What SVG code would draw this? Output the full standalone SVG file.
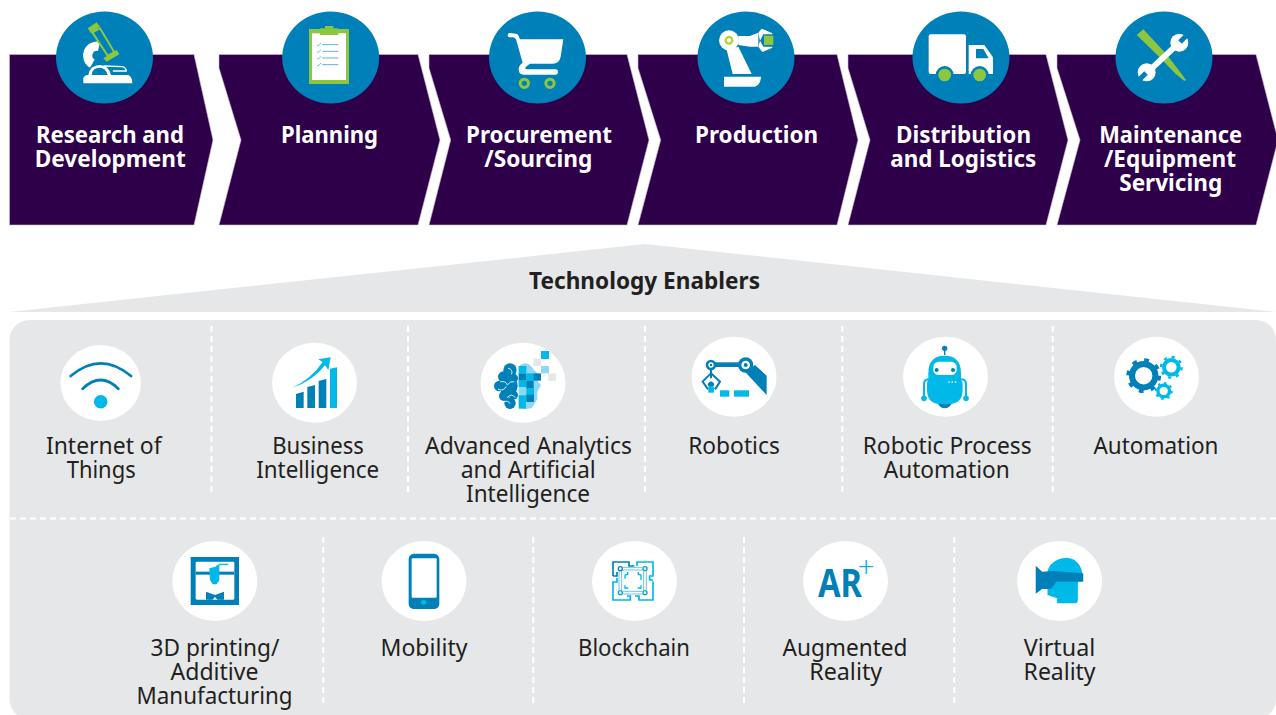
<svg xmlns="http://www.w3.org/2000/svg" width="1276" height="715" viewBox="0 0 1276 715">
<style>
.chev{fill:#2d0049;stroke:#c9bcd6;stroke-width:.6}
.bc{fill:#0080b9}
.wc{fill:#fff}
.w{fill:#fff}
.b{fill:#0080b9}
.c{fill:#00b9e8}
.g{fill:#8dc63f}
.h{font:700 23.5px "Noto Sans",sans-serif;fill:#fff;text-anchor:middle}
.t{font:400 23px "Noto Sans",sans-serif;fill:#231f20;text-anchor:middle}
.d{stroke:#fff;stroke-width:2;stroke-dasharray:6 4;fill:none}
.ln{fill:none;stroke-linecap:round;stroke-linejoin:round}
</style>
<rect width="1276" height="715" fill="#fff"/>

<g id="enablers-header">
<polygon points="9,312 645,244 1276,312" fill="#e6e7e8"/>
<text x="644.500" y="289" style="font:700 23px 'Noto Sans',sans-serif;fill:#231f20;text-anchor:middle" textLength="231" lengthAdjust="spacingAndGlyphs">Technology Enablers</text>
</g>
<rect id="enablers-panel" x="9.500" y="320" width="1266.500" height="399" rx="20" fill="#e6e7e8"/>

<g id="dividers" class="d">
<path d="M211.500 326V494M408 326V494M645 326V494M842.300 326V494M1052.700 326V494"/>
<path d="M10 518.500H1276"/>
<path d="M323.300 537V706M533.300 537V706M744 537V706M954.300 537V706"/>
</g>

<g id="research">
<polygon class="chev" points="9.500,54.500 194,54.500 213,140 194,225 9.500,225"/>
<ellipse class="bc" cx="104.500" cy="57.500" rx="48.500" ry="46"/>
<g transform="translate(75,15) scale(.33333)">
<path d="M72 94.400A28 28 0 0 0 52 146" fill="none" stroke="#fff" stroke-width="28"/>
<path class="w" d="M40 180Q45 150 75 150Q100 150 108 180H98Q92 158 74 158Q52 158 50 180Z"/>
<path class="ln" d="M88 153L142 155Q153 158 154 168H115" stroke="#fff" stroke-width="4"/>
<path class="w" d="M25 205V190Q28 181 38 180H160Q172 185 172 205Z"/>
<polygon class="g" points="38,40 65,22 75,35 48,55"/>
<polygon class="g" points="85,130 125,105 133,118 95,140"/>
<polygon points="52,52 75,40 118,112 98,122" fill="none" stroke="#8dc63f" stroke-width="6"/>
</g>
<text class="h" x="110" y="143" textLength="148" lengthAdjust="spacingAndGlyphs">Research and</text>
<text class="h" x="110.300" y="167" textLength="151" lengthAdjust="spacingAndGlyphs">Development</text>
</g>

<g id="planning">
<polygon class="chev" points="219,54.500 418,54.500 440,140 418,225 219,225 241,140 219,68"/>
<ellipse class="bc" cx="330.700" cy="57.500" rx="48.500" ry="46"/>
<g transform="scale(.33333)">
<rect class="g" x="927" y="87" width="120" height="165"/>
<rect class="w" x="936" y="100" width="102" height="140"/>
<rect class="g" x="960" y="85" width="55" height="20"/>
<rect class="g" x="975" y="78" width="25" height="8"/>
<path d="M967 134H1015M967 154H1015M967 174H1015M967 194H1015" stroke="#5fb2d6" stroke-width="3" fill="none"/>
<path d="M951 134l4 4 8-9M951 154l4 4 8-9M951 174l4 4 8-9M951 194l4 4 8-9" stroke="#3a9cc8" stroke-width="2" fill="none"/>
</g>
<text class="h" x="329.500" y="143" textLength="97" lengthAdjust="spacingAndGlyphs">Planning</text>
</g>

<g id="procurement">
<polygon class="chev" points="429,54.500 627,54.500 649,140 627,225 429,225 450.700,140 429,68"/>
<ellipse class="bc" cx="537.500" cy="57.500" rx="48.500" ry="46"/>
<g transform="translate(430,0) scale(.33333)">
<path class="w" d="M233 106Q233 99 240 99L258 101Q264 102 266 108L270 118H400L392 170Q388 190 368 191H300L288 200Q282 208 292 208H378Q384 209 384 215Q384 224 376 224H282Q266 224 266 208Q266 196 278 188L258 118Q254 112 248 112L238 112Q233 112 233 106Z"/>
<circle cx="283" cy="250" r="12.500" fill="none" stroke="#8dc63f" stroke-width="9"/>
<circle cx="360" cy="250" r="12.500" fill="none" stroke="#8dc63f" stroke-width="9"/>
</g>
<text class="h" x="539" y="143" textLength="146" lengthAdjust="spacingAndGlyphs">Procurement</text>
<text class="h" x="538.300" y="167" textLength="108" lengthAdjust="spacingAndGlyphs">/Sourcing</text>
</g>

<g id="production">
<polygon class="chev" points="638,54.500 837,54.500 858,140 837,225 638,225 660.700,140 638,68"/>
<ellipse class="bc" cx="746" cy="57.500" rx="48.500" ry="46"/>
<g transform="translate(430,0) scale(.33333)">
<polygon class="w" points="890,150 925,140 965,222 908,222"/>
<path class="w" d="M882 230H993Q992 255 975 260H882Z"/>
<polygon class="w" points="925,108 960,108 985,98 985,140 960,140 925,135"/>
<circle class="w" cx="897" cy="121" r="30"/>
<circle cx="897" cy="121" r="10" fill="none" stroke="#b5d334" stroke-width="7"/>
<polygon class="w" points="985,98 995,86 1027,100 1027,103 1000,103 990,122"/>
<polygon class="w" points="990,122 1000,140 1027,140 1027,143 997,156 985,140"/>
<rect class="g" x="1002" y="107" width="28" height="28"/>
</g>
<text class="h" x="756.600" y="143" textLength="123" lengthAdjust="spacingAndGlyphs">Production</text>
</g>

<g id="distribution">
<polygon class="chev" points="848,54.500 1046,54.500 1068,140 1046,225 848,225 870,140 848,68"/>
<ellipse class="bc" cx="961" cy="57.500" rx="48.500" ry="46"/>
<g transform="translate(846,0) scale(.33333)">
<rect class="w" x="248" y="103" width="112" height="119" rx="6"/>
<path class="w" d="M368 135H415L441 172V222H368Z"/>
<polygon class="b" points="390,147 412,147 428,175 390,175"/>
<circle class="b" cx="296" cy="225" r="27"/>
<circle class="b" cx="401" cy="225" r="27"/>
<rect class="b" x="260" y="222" width="70" height="12"/>
<rect class="b" x="365" y="222" width="80" height="12"/>
<circle class="g" cx="296" cy="225" r="19"/>
<circle class="g" cx="401" cy="225" r="19"/>
</g>
<text class="h" x="963.500" y="143" textLength="135" lengthAdjust="spacingAndGlyphs">Distribution</text>
<text class="h" x="963.300" y="167" textLength="146" lengthAdjust="spacingAndGlyphs">and Logistics</text>
</g>

<g id="maintenance">
<polygon class="chev" points="1057,54.500 1256,54.500 1278,140 1256,225 1057,225 1080,140 1057,68"/>
<ellipse class="bc" cx="1164" cy="57.500" rx="48.500" ry="46"/>
<g transform="translate(1125,20) scale(.33333)">
<polygon class="g" points="35,45 55,28 115,92 130,110 165,155 183,180 178,183 150,160 100,108"/>
<path d="M150 80L80 145" stroke="#fff" stroke-width="18" fill="none"/>
<circle class="w" cx="163" cy="68" r="27"/>
<circle class="w" cx="65" cy="157" r="27"/>
<path d="M165 66L197 34M63 159L31 191" stroke="#0080b9" stroke-width="15" fill="none"/>
</g>
<text class="h" x="1170.700" y="143" textLength="143" lengthAdjust="spacingAndGlyphs">Maintenance</text>
<text class="h" x="1170" y="167" textLength="132" lengthAdjust="spacingAndGlyphs">/Equipment</text>
<text class="h" x="1170.700" y="191" textLength="103" lengthAdjust="spacingAndGlyphs">Servicing</text>
</g>

<g id="iot">
<ellipse class="wc" cx="100.700" cy="383" rx="40.300" ry="38"/>
<path class="ln" d="M70.700 376Q100.700 350.700 131 376M82.700 388.700Q100.700 371.300 118.300 388.700" stroke="#0080b9" stroke-width="2.800"/>
<circle class="c" cx="100.700" cy="401.700" r="6.800"/>
<text class="t" x="103.800" y="453.500" textLength="115.700" lengthAdjust="spacingAndGlyphs">Internet of</text>
<text class="t" x="101.200" y="477.500" textLength="69" lengthAdjust="spacingAndGlyphs">Things</text>
</g>

<g id="business-intelligence">
<ellipse class="wc" cx="314.500" cy="382.700" rx="42.500" ry="40"/>
<g transform="translate(0,310) scale(.33333)">
<path class="b" d="M888 252L911 245V294H888Z"/>
<path class="b" d="M922 231L945 225V294H922Z"/>
<path class="b" d="M956 213L979 207V294H956Z"/>
<path class="c" d="M990 176L1011 172V294H990Z"/>
<path class="c" d="M878 233Q935 205 968 156L955 148L992 142L985 180L975 166Q940 212 878 233Z"/>
</g>
<text class="t" x="318" y="453.500" textLength="91.700" lengthAdjust="spacingAndGlyphs">Business</text>
<text class="t" x="317.700" y="477.500" textLength="123" lengthAdjust="spacingAndGlyphs">Intelligence</text>
</g>

<g id="advanced-analytics-ai">
<ellipse class="wc" cx="523" cy="382.700" rx="42.500" ry="40"/>
<g transform="translate(430,310) scale(.33333)">
<g class="b">
<circle cx="240" cy="180" r="20"/><circle cx="220" cy="200" r="16"/><circle cx="208" cy="228" r="16"/><circle cx="235" cy="228" r="28"/><circle cx="222" cy="258" r="15"/><circle cx="240" cy="280" r="17"/><circle cx="250" cy="205" r="14"/><circle cx="250" cy="255" r="14"/>
</g>
<path class="ln" d="M235 175Q250 178 245 192M212 215Q228 212 232 225Q240 212 252 215M205 238Q222 245 228 230M232 262Q245 248 255 262M222 275Q235 270 240 280" stroke="#fff" stroke-width="2.500"/>
<path d="M266 172Q272 160 287 160Q300 162 310 178L322 190V212L333 225L322 245V268L305 295L285 297Q270 295 266 285Z" fill="#8fd8f2"/>
<rect class="b" x="266" y="190" width="23" height="22"/>
<rect class="c" x="289" y="190" width="23" height="22"/>
<rect class="b" x="311" y="190" width="22" height="22"/>
<rect class="c" x="266" y="168" width="23" height="22"/>
<rect class="c" x="266" y="212" width="23" height="19"/>
<rect class="b" x="289" y="212" width="22" height="22"/>
<rect class="c" x="289" y="234" width="23" height="22"/>
<rect class="c" x="266" y="256" width="23" height="20"/>
<rect class="b" x="289" y="254" width="23" height="22"/>
<rect class="c" x="266" y="276" width="22" height="20"/>
<rect class="c" x="333" y="123" width="24" height="24"/>
<rect x="310" y="145" width="23" height="23" fill="#e6e7e8"/>
<rect x="333" y="168" width="24" height="22" fill="#8fd8f2"/>
<rect x="355" y="190" width="23" height="23" fill="#e6e7e8"/>
</g>
<text class="t" x="528.500" y="453.500" textLength="207" lengthAdjust="spacingAndGlyphs">Advanced Analytics</text>
<text class="t" x="528.200" y="477.500" textLength="135" lengthAdjust="spacingAndGlyphs">and Artificial</text>
<text class="t" x="528" y="501.500" textLength="124" lengthAdjust="spacingAndGlyphs">Intelligence</text>
</g>

<g id="robotics">
<ellipse class="wc" cx="734" cy="376.700" rx="42.500" ry="40"/>
<g transform="translate(430,310) scale(.33333)">
<rect class="b" x="843" y="157" width="104" height="14"/>
<polygon class="b" points="958,178 975,165 1010,197 1010,255 945,185"/>
<circle class="b" cx="947" cy="165" r="23"/><circle class="w" cx="947" cy="165" r="13"/><circle class="b" cx="947" cy="165" r="6"/>
<circle class="b" cx="843" cy="165" r="16"/><circle class="w" cx="843" cy="165" r="8"/><circle class="b" cx="843" cy="165" r="3.500"/>
<path d="M843 180V205M843 190L818 215L834 238M843 190L870 215L855 238" fill="none" stroke="#0080b9" stroke-width="6"/>
<path class="b" d="M833 222Q843 205 853 222L850 230H836Z"/>
<rect class="c" x="835" y="231" width="17" height="17"/>
<rect class="c" x="870" y="241" width="28" height="19"/>
<rect class="c" x="912" y="241" width="45" height="19"/>
</g>
<text class="t" x="734" y="453.500" textLength="91.700" lengthAdjust="spacingAndGlyphs">Robotics</text>
</g>

<g id="rpa">
<ellipse class="wc" cx="945.500" cy="376.700" rx="42.500" ry="40"/>
<g transform="translate(846,310) scale(.33333)">
<circle class="b" cx="296" cy="115" r="8"/>
<path d="M296 118V135" stroke="#0080b9" stroke-width="4"/>
<path class="ln" d="M234 265L234 222Q234 210 246 208M360 265L360 222Q360 210 348 208" stroke="#00b9e8" stroke-width="6"/>
<circle class="c" cx="234" cy="265" r="8.500"/><circle class="c" cx="360" cy="265" r="8.500"/>
<path class="b" d="M275 280H318Q310 295 296 295Q282 295 275 280Z"/>
<path class="c" d="M247 190Q247 137 296 137Q345 137 345 190V207Q350 215 350 225V240Q350 280 310 282H282Q243 280 243 240V225Q243 215 247 207Z"/>
<rect class="w" x="262" y="155" width="70" height="40" rx="16"/>
<circle class="b" cx="272" cy="180" r="6"/><circle class="b" cx="321" cy="180" r="6"/>
<circle class="w" cx="309" cy="216" r="2.500"/><circle class="w" cx="319" cy="216" r="2.500"/><circle class="w" cx="329" cy="216" r="2.500"/>
</g>
<text class="t" x="947.200" y="453.500" textLength="169" lengthAdjust="spacingAndGlyphs">Robotic Process</text>
<text class="t" x="946.700" y="477.500" textLength="126" lengthAdjust="spacingAndGlyphs">Automation</text>
</g>

<g id="automation">
<ellipse class="wc" cx="1156.500" cy="376.700" rx="42.500" ry="40"/>
<g fill="none">
<circle cx="1143.700" cy="375.700" r="11.700" stroke="#0080b9" stroke-width="6"/>
<circle cx="1143.700" cy="375.700" r="15.700" stroke="#0080b9" stroke-width="3.400" stroke-dasharray="4.800 7.530"/>
<circle cx="1171.300" cy="367.300" r="7.300" stroke="#00b9e8" stroke-width="4"/>
<circle cx="1171.300" cy="367.300" r="10.300" stroke="#00b9e8" stroke-width="2.400" stroke-dasharray="3.200 4.890"/>
<circle cx="1163.700" cy="391" r="5.800" stroke="#00b9e8" stroke-width="3.400"/>
<circle cx="1163.700" cy="391" r="8" stroke="#00b9e8" stroke-width="2" stroke-dasharray="2.500 3.780"/>
</g>
<text class="t" x="1156" y="453.500" textLength="125" lengthAdjust="spacingAndGlyphs">Automation</text>
</g>

<g id="printing-3d">
<ellipse class="wc" cx="214.800" cy="581" rx="42.500" ry="40"/>
<g transform="translate(130,515) scale(.33333)">
<rect class="b" x="182" y="126" width="145" height="144"/>
<rect class="w" x="197" y="140" width="116" height="114" rx="4"/>
<rect class="b" x="197" y="170" width="116" height="9"/>
<path d="M258 155L270 148H295" fill="none" stroke="#00b9e8" stroke-width="4"/>
<polygon class="c" points="238,160 268,152 268,195 260,208 248,208 240,195"/>
<polygon class="b" points="228,230 255,240 282,230 282,254 262,254 255,245 248,254 228,254"/>
</g>
<text class="t" x="215" y="655.700" textLength="129" lengthAdjust="spacingAndGlyphs">3D printing/</text>
<text class="t" x="214.500" y="679.700" textLength="88" lengthAdjust="spacingAndGlyphs">Additive</text>
<text class="t" x="214.500" y="703.700" textLength="156" lengthAdjust="spacingAndGlyphs">Manufacturing</text>
</g>

<g id="mobility">
<ellipse class="wc" cx="424" cy="581" rx="42.500" ry="40"/>
<g transform="translate(130,515) scale(.33333)">
<rect class="b" x="836" y="116" width="92" height="166" rx="16"/>
<rect class="w" x="845" y="130" width="75" height="118" rx="3"/>
<circle class="c" cx="881" cy="262" r="7.500"/>
</g>
<text class="t" x="424" y="655.700" textLength="87" lengthAdjust="spacingAndGlyphs">Mobility</text>
</g>

<g id="blockchain">
<ellipse class="wc" cx="634.500" cy="581" rx="42.500" ry="40"/>
<g transform="translate(605,552) scale(.33333)" fill="none" stroke-width="5">
<path d="M96 42V30H144V72H134V84H144M144 88V144H102V132H90M66 132H76V144H24V90H36V78" stroke="#00b9e8"/>
<path d="M24 72V30H72V42H88M24 72H36V60" stroke="#0080b9"/>
<path d="M60 68H68V60M60 100V108H70M108 68H100V60M108 100V108H98M60 68V80M108 68V84" stroke="#00b9e8" stroke-width="4"/>
<path d="M54 46H112M54 54H112M54 118H112M54 126H112M42 58V114M50 58V114M116 58V114M124 58V114" stroke="#6cc5e6" stroke-width="3"/>
<circle cx="46" cy="50" r="6" stroke="#0080b9" stroke-width="4" fill="#fff"/>
<circle cx="120" cy="50" r="6" stroke="#00a0d2" stroke-width="4" fill="#fff"/>
<circle cx="46" cy="122" r="6" stroke="#00a0d2" stroke-width="4" fill="#fff"/>
<circle cx="120" cy="122" r="6" stroke="#00a0d2" stroke-width="4" fill="#fff"/>
</g>
<text class="t" x="634" y="655.700" textLength="112" lengthAdjust="spacingAndGlyphs">Blockchain</text>
</g>

<g id="augmented-reality">
<ellipse class="wc" cx="845.500" cy="581" rx="42.500" ry="40"/>
<text x="840" y="597" style="font:700 39px 'Noto Sans',sans-serif;fill:#0080b9;text-anchor:middle" textLength="44" lengthAdjust="spacingAndGlyphs">AR</text>
<text x="866" y="577" style="font:300 30px 'Noto Sans',sans-serif;fill:#00b9e8;text-anchor:middle">+</text>
<text class="t" x="845" y="655.700" textLength="125" lengthAdjust="spacingAndGlyphs">Augmented</text>
<text class="t" x="845.700" y="679.700" textLength="73" lengthAdjust="spacingAndGlyphs">Reality</text>
</g>

<g id="virtual-reality">
<ellipse class="wc" cx="1059.600" cy="581" rx="42.500" ry="40"/>
<g transform="translate(560,515) scale(.35714,.33333)">
<path class="c" d="M1365 170C1370 140 1400 128 1420 128C1450 130 1462 160 1462 175L1450 205V255Q1450 265 1440 265H1392V250L1365 240Z"/>
<path class="b" d="M1332 152L1350 170L1380 168L1465 175V200L1390 200L1375 222H1350L1332 236Z"/>
</g>
<text class="t" x="1059.500" y="655.700" textLength="71.400" lengthAdjust="spacingAndGlyphs">Virtual</text>
<text class="t" x="1059.600" y="679.700" textLength="72" lengthAdjust="spacingAndGlyphs">Reality</text>
</g>
</svg>
